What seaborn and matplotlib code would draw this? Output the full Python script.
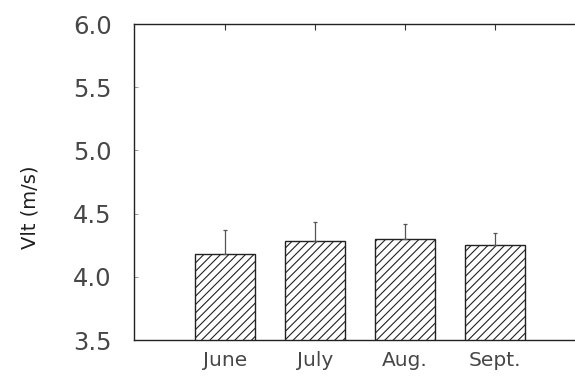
import matplotlib
matplotlib.use("Agg")
import matplotlib.pyplot as plt
import seaborn as sns
import pandas as pd

# Monthly mean Vlt with upper standard deviation
months = ["June", "July", "Aug.", "Sept."]
vlt_mean = [4.18, 4.28, 4.30, 4.25]
vlt_sd = [0.19, 0.15, 0.12, 0.10]
y_ticks = [3.5, 4.0, 4.5, 5.0, 5.5, 6.0]

sns.set_theme(style="white")
plt.rcParams["font.family"] = ["DejaVu Sans"]
plt.rcParams["hatch.linewidth"] = 0.8
plt.rcParams["hatch.color"] = "#333333"

df = pd.DataFrame({"month": months, "vlt": vlt_mean})

fig = plt.figure(figsize=(5.75, 3.78), dpi=100)
ax = fig.add_axes([0.233, 0.1005, 0.767, 0.836])

sns.barplot(data=df, x="month", y="vlt", order=months, errorbar=None,
            width=0.667, color="white", edgecolor="#222222", linewidth=1.0,
            hatch="////", ax=ax)
ax.errorbar(range(len(months)), vlt_mean, yerr=[[0] * len(months), vlt_sd],
            fmt="none", ecolor="#555555", elinewidth=0.9, capsize=1.5,
            capthick=0.9, zorder=1)

ax.set_ylim(3.5, 6.0)
ax.set_xlim(-1.011, 3.889)
ax.set_yticks(y_ticks)
ax.set_yticklabels([f"{v:.1f}" for v in y_ticks], fontsize=17.5,
                   color="#474747")
ax.set_xticks(range(len(months)))
ax.set_xticklabels(months, fontsize=14.5, color="#474747")
ax.set_xlabel("")
ax.set_ylabel("Vlt (m/s)", fontsize=14, color="#1e1e1e")
ax.yaxis.set_label_coords(-0.215, 0.42)

for side in ["left", "top", "bottom"]:
    ax.spines[side].set_visible(True)
    ax.spines[side].set_color("#222222")
    ax.spines[side].set_linewidth(1.0)
ax.spines["right"].set_visible(False)

ax.tick_params(axis="y", direction="in", length=3, width=0.6, color="#888888",
               pad=16, left=True)
ax.tick_params(axis="x", direction="in", length=4, width=0.8, color="#333333",
               pad=8, bottom=False, top=True)
ax.grid(False)

fig.savefig("out.png", dpi=100)
